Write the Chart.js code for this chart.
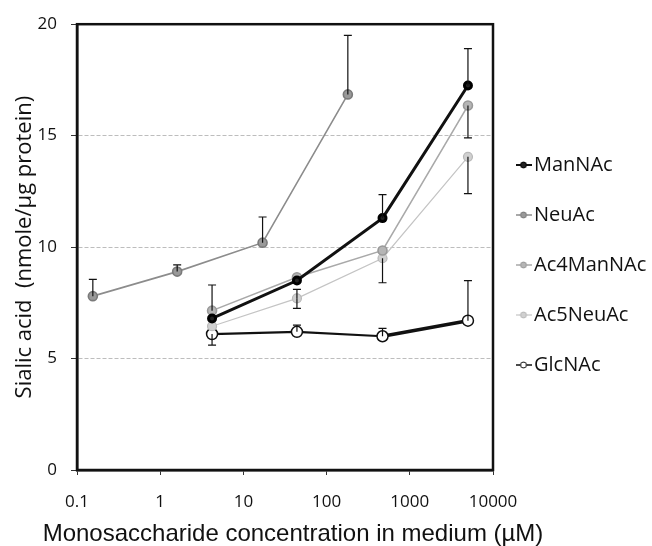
<!DOCTYPE html>
<html>
<head>
<meta charset="utf-8">
<script src="https://cdn.jsdelivr.net/npm/chart.js@4/dist/chart.umd.min.js"></script>
<style>
  html, body { margin: 0; padding: 0; background: #fff; }
</style>
</head>
<body>
<canvas id="sialicChart" width="652" height="546"></canvas>
<script>
// concentrations (uM)
const CONC_NEUAC = [0.155, 1.6, 17, 180];
const CONC_OTHERS = [4.2, 44, 470, 5000];

const MANNAC = [6.8, 8.5, 11.3, 17.25];
const MANNAC_UP = [0, 0, 1.05, 1.65];
const MANNAC_DOWN = [0, 0, 0, 0];

const NEUAC = [7.8, 8.9, 10.2, 16.85];
const NEUAC_UP = [0.75, 0.3, 1.15, 2.65];
const NEUAC_DOWN = [0, 0, 0, 0];

const AC4MANNAC = [7.15, 8.65, 9.85, 16.35];
const AC4MANNAC_UP = [1.15, 0, 0, 0];
const AC4MANNAC_DOWN = [0, 0, 0, 1.45];

const AC5NEUAC = [6.45, 7.7, 9.5, 14.05];
const AC5NEUAC_UP = [0, 0.4, 0, 0];
const AC5NEUAC_DOWN = [0, 0.45, 1.1, 1.65];

const GLCNAC = [6.1, 6.2, 6.0, 6.7];
const GLCNAC_UP = [0, 0.3, 0.35, 1.8];
const GLCNAC_DOWN = [0.5, 0, 0, 0];

const X_TICKS = [0.1, 1, 10, 100, 1000, 10000];
const Y_MIN = 0, Y_MAX = 20, Y_STEP = 5;

const X_TITLE = "Monosaccharide concentration in medium (\u00b5M)";
const Y_TITLE = "Sialic acid  (nmole/\u00b5g protein)";

function pts(xs, ys) {
    return xs.map((x, i) => ({ x: x, y: ys[i] }));
}

// little line+dot swatch for the legend
function swatch(lineColor, lineWidth, fill, stroke, r) {
    const c = document.createElement("canvas");
    c.width = 16; c.height = 12;
    const g = c.getContext("2d");
    g.strokeStyle = lineColor;
    g.lineWidth = lineWidth;
    g.beginPath(); g.moveTo(0, 6); g.lineTo(16, 6); g.stroke();
    g.beginPath(); g.arc(8, 6, r, 0, Math.PI * 2);
    g.fillStyle = fill; g.fill();
    g.strokeStyle = stroke; g.lineWidth = 1; g.stroke();
    return c;
}

const errorBars = {
    id: "errorBars",
    afterDatasetsDraw(chart) {
        const ctx = chart.ctx;
        const xs = chart.scales.x, ys = chart.scales.y;
        ctx.save();
        ctx.strokeStyle = "#111";
        ctx.lineWidth = 1.2;
        chart.data.datasets.forEach(ds => {
            ds.data.forEach((p, i) => {
                const px = xs.getPixelForValue(p.x);
                const ends = [];
                if (ds.errUp[i]) ends.push(ys.getPixelForValue(p.y + ds.errUp[i]));
                if (ds.errDown[i]) ends.push(ys.getPixelForValue(p.y - ds.errDown[i]));
                const py = ys.getPixelForValue(p.y);
                ends.forEach(e => {
                    ctx.beginPath();
                    ctx.moveTo(px, py); ctx.lineTo(px, e);
                    ctx.moveTo(px - 4, e); ctx.lineTo(px + 4, e);
                    ctx.stroke();
                });
            });
        });
        ctx.restore();
    }
};

// plot frame + x title (the scale title gets squeezed to the plot width)
const frame = {
    id: "frame",
    afterDraw(chart) {
        const a = chart.chartArea, ctx = chart.ctx;
        ctx.save();
        ctx.strokeStyle = "#111";
        ctx.lineWidth = 2.5;
        ctx.strokeRect(a.left, a.top, a.right - a.left, a.bottom - a.top);
        ctx.fillStyle = "#111";
        ctx.font = "24px 'Liberation Sans'";
        ctx.textAlign = "center";
        ctx.textBaseline = "middle";
        ctx.fillText(X_TITLE, (a.left + a.right) / 2 + 8, chart.height - 12);
        ctx.restore();
    }
};

const ctx = document.getElementById("sialicChart").getContext("2d");
new Chart(ctx, {
    type: "line",
    data: {
        datasets: [
            {
                label: "ManNAc", data: pts(CONC_OTHERS, MANNAC),
                errUp: MANNAC_UP, errDown: MANNAC_DOWN,
                borderColor: "#111", borderWidth: 3,
                pointBackgroundColor: "#222", pointBorderColor: "#000", pointRadius: 3.5,
                legendSwatch: swatch("#111", 2, "#222", "#000", 3)
            },
            {
                label: "NeuAc", data: pts(CONC_NEUAC, NEUAC),
                errUp: NEUAC_UP, errDown: NEUAC_DOWN,
                borderColor: "#8c8c8c", borderWidth: 1.6,
                pointBackgroundColor: "#999", pointBorderColor: "#7a7a7a", pointRadius: 4.5,
                legendSwatch: swatch("#8c8c8c", 1.5, "#999", "#7a7a7a", 3)
            },
            {
                label: "Ac4ManNAc", data: pts(CONC_OTHERS, AC4MANNAC),
                errUp: AC4MANNAC_UP, errDown: AC4MANNAC_DOWN,
                borderColor: "#a9a9a9", borderWidth: 1.6,
                pointBackgroundColor: "#b5b5b5", pointBorderColor: "#999", pointRadius: 4.5,
                legendSwatch: swatch("#a9a9a9", 1.5, "#b5b5b5", "#999", 3)
            },
            {
                label: "Ac5NeuAc", data: pts(CONC_OTHERS, AC5NEUAC),
                errUp: AC5NEUAC_UP, errDown: AC5NEUAC_DOWN,
                borderColor: "#c4c4c4", borderWidth: 1.2,
                pointBackgroundColor: "#d0d0d0", pointBorderColor: "#b8b8b8", pointRadius: 4.5,
                legendSwatch: swatch("#c4c4c4", 1.2, "#d0d0d0", "#b8b8b8", 3)
            },
            {
                label: "GlcNAc", data: pts(CONC_OTHERS, GLCNAC),
                errUp: GLCNAC_UP, errDown: GLCNAC_DOWN,
                borderColor: "#111", borderWidth: 2.2,
                segment: { borderWidth: c => c.p1DataIndex === 3 ? 3.5 : 2.2 },
                pointBackgroundColor: "#fff", pointBorderColor: "#111", pointBorderWidth: 1.5, pointRadius: 5.5,
                legendSwatch: swatch("#111", 1.5, "#fff", "#111", 3)
            }
        ]
    },
    options: {
        responsive: false,
        animation: false,
        layout: { padding: { top: 20, right: 0, left: 0, bottom: 0 } },
        elements: { line: { tension: 0 } },
        scales: {
            x: {
                type: "logarithmic",
                min: 0.1, max: 10000,
                afterBuildTicks: s => { s.ticks = X_TICKS.map(v => ({ value: v })); },
                afterFit: s => { s.height = 76; },
                ticks: {
                    callback: v => String(v),
                    color: "#111", padding: 17, maxRotation: 0,
                    font: { family: "Open Sans", size: 17 }
                },
                grid: { drawOnChartArea: false, tickLength: 5, tickColor: "#333" },
                border: { color: "#111", width: 2.5 },
                title: { display: false }
            },
            y: {
                min: Y_MIN, max: Y_MAX,
                afterFit: s => { s.width = 77; },
                ticks: {
                    stepSize: Y_STEP, color: "#111", padding: 14,
                    font: { family: "Open Sans", size: 17 }
                },
                grid: {
                    color: c => (c.tick.value === Y_MIN || c.tick.value === Y_MAX) ? "rgba(0,0,0,0)" : "#bdbdbd",
                    tickLength: 6, tickColor: "#333", lineWidth: 1
                },
                border: { color: "#111", width: 2.5, dash: [4, 2] },
                title: {
                    display: true, text: Y_TITLE,
                    color: "#111", padding: { top: 12, bottom: 0 },
                    font: { family: "Open Sans", size: 22, lineHeight: 1.2 }
                }
            }
        },
        plugins: {
            legend: {
                position: "right",
                align: "start",
                maxWidth: 159,
                title: { display: true, text: " ", padding: { top: 46, bottom: 47 }, font: { size: 10 } },
                labels: {
                    usePointStyle: true,
                    pointStyleWidth: 1,
                    padding: 30,
                    color: "#111",
                    font: { family: "Open Sans", size: 20 },
                    generateLabels: chart => chart.data.datasets.map((ds, i) => ({
                        text: ds.label,
                        pointStyle: ds.legendSwatch,
                        fillStyle: ds.borderColor,
                        strokeStyle: ds.borderColor,
                        lineWidth: 0,
                        hidden: false,
                        datasetIndex: i,
                        fontColor: "#111"
                    }))
                }
            },
            tooltip: { enabled: false }
        }
    },
    plugins: [errorBars, frame]
});
</script>
</body>
</html>
